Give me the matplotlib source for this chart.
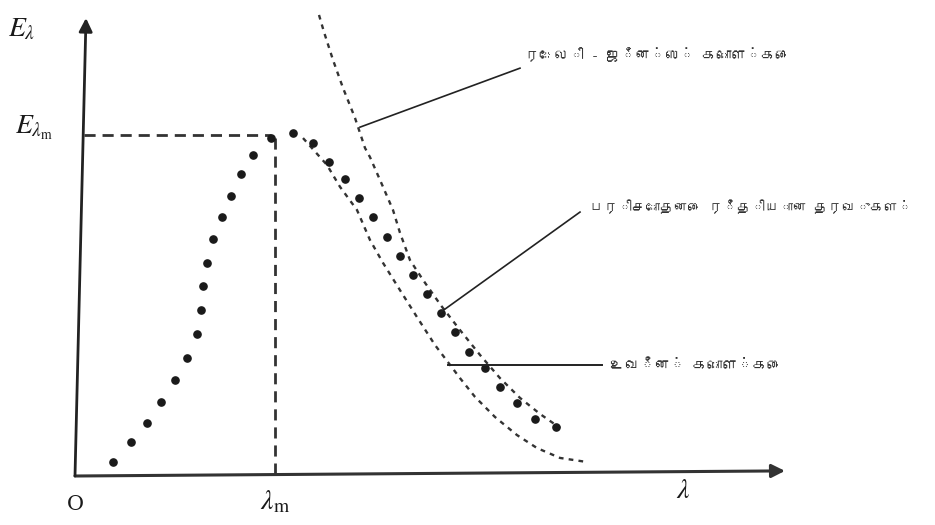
import matplotlib
matplotlib.use('Agg')
import matplotlib.pyplot as plt
from matplotlib import font_manager, ft2font

# 測定データ（実験値）
exp_lam = [0.19, 0.28, 0.36, 0.43, 0.50, 0.56, 0.61, 0.63, 0.64, 0.66, 0.69, 0.735, 0.78, 0.83, 0.89, 0.98,
           1.09, 1.19, 1.27, 1.35, 1.42, 1.49, 1.56, 1.625, 1.69, 1.76, 1.83, 1.90, 1.97, 2.05, 2.125, 2.21, 2.30, 2.405]
exp_E = [0.042, 0.10, 0.156, 0.218, 0.282, 0.345, 0.416, 0.487, 0.558, 0.626, 0.694, 0.759, 0.821, 0.886, 0.942, 0.99,
         1.005, 0.976, 0.922, 0.870, 0.814, 0.759, 0.702, 0.645, 0.589, 0.533, 0.477, 0.421, 0.365, 0.316, 0.26, 0.215, 0.166, 0.143]

# ウィーンの理論
wien_lam = [1.14, 1.26, 1.325, 1.41, 1.475, 1.54, 1.625, 1.71, 1.80, 1.875, 1.925, 2.00, 2.10, 2.21, 2.31, 2.425, 2.56]
wien_E = [0.991, 0.912, 0.848, 0.78, 0.692, 0.625, 0.545, 0.466, 0.384, 0.326, 0.287, 0.232, 0.173, 0.12, 0.082, 0.053, 0.041]

# レイリー・ジーンズの理論
rj_lam = [1.22, 1.245, 1.29, 1.34, 1.40, 1.45, 1.475, 1.54, 1.59, 1.625, 1.675, 1.74, 1.83, 1.925, 2.025, 2.125, 2.225, 2.325, 2.425]
rj_E = [1.352, 1.302, 1.22, 1.138, 1.05, 0.962, 0.935, 0.848, 0.78, 0.713, 0.633, 0.575, 0.50, 0.428, 0.355, 0.287, 0.229, 0.182, 0.141]

lam_m = 1.0
E_m = 1.0

label_rj = 'ரேலி - ஜீன்ஸ் கொள்கை'
label_exp = 'பரிசோதனை ரீதியான தரவுகள்'
label_wien = 'உவீன் கொள்கை'


# タミル文字が使えるフォントを探す
def find_tamil_font():
    for path in font_manager.findSystemFonts():
        try:
            cmap = ft2font.FT2Font(path).get_charmap()
        except Exception:
            continue
        if 0x0BB0 in cmap:
            font_manager.fontManager.addfont(path)
            return font_manager.FontProperties(fname=path).get_name()
    return None


tamil = find_tamil_font()
tamil_family = [tamil, 'DejaVu Sans'] if tamil else ['DejaVu Sans']
plt.rcParams['mathtext.fontset'] = 'stix'

fig = plt.figure(figsize=(9.35, 5.25), dpi=100)
ax = fig.add_axes([0, 0, 1, 1])
ax.set_xlim(-0.375, 4.3)
ax.set_ylim(-0.1437, 1.3959)
ax.axis('off')

ink = '#1a1a1a'

# 軸
ax.annotate('', xy=(3.55, 0.015), xytext=(0, 0),
            arrowprops=dict(arrowstyle='-|>', color='#333333', lw=2.2, mutation_scale=20, shrinkA=0, shrinkB=0))
ax.annotate('', xy=(0.055, 1.343), xytext=(0, 0),
            arrowprops=dict(arrowstyle='-|>', color='#222222', lw=2.0, mutation_scale=20, shrinkA=0, shrinkB=0))

# ピーク位置の補助線
ax.plot([0.045, lam_m - 0.02], [E_m, E_m], color='#333333', lw=2, dashes=(4, 2.5))
ax.plot([lam_m, lam_m], [E_m - 0.01, 0], color='#333333', lw=2, dashes=(4, 2.5))

# 曲線
ax.plot(rj_lam, rj_E, color='#333333', lw=1.7, dashes=(2, 2.2))
ax.plot(wien_lam, wien_E, color='#333333', lw=1.7, dashes=(2, 2.2))
ax.plot(exp_lam, exp_E, 'o', color=ink, markersize=5.2)

# 引き出し線
ax.plot([1.425, 2.225], [1.023, 1.196], color='#222222', lw=1.2)
ax.plot([1.83, 2.525], [0.481, 0.774], color='#222222', lw=1.2)
ax.plot([1.865, 2.635], [0.3255, 0.3255], color='#222222', lw=1.4)

ax.text(2.25, 1.235, label_rj, family=tamil_family, fontsize=10.6, ha='left', va='center', color='#333333')
ax.text(2.575, 0.789, label_exp, family=tamil_family, fontsize=10.1, ha='left', va='center', color='#333333')
ax.text(2.675, 0.3255, label_wien, family=tamil_family, fontsize=10.8, ha='left', va='center', color='#333333')

# 軸ラベル
ax.text(-0.335, 1.314, r'$E_\lambda$', fontsize=20, ha='left', va='center', color=ink)
ax.text(-0.30, 1.02, r'$E_{\lambda_{\mathrm{m}}}$', fontsize=20, ha='left', va='center', color=ink)
ax.text(0, -0.085, 'O', family='DejaVu Serif', fontsize=15, ha='center', va='center', color=ink)
ax.text(1.0, -0.075, r'$\lambda_{\mathrm{m}}$', fontsize=20, ha='center', va='center', color=ink)
ax.text(3.04, -0.04, r'$\lambda$', fontsize=20, ha='center', va='center', color=ink)

fig.savefig('out.png', dpi=100)
